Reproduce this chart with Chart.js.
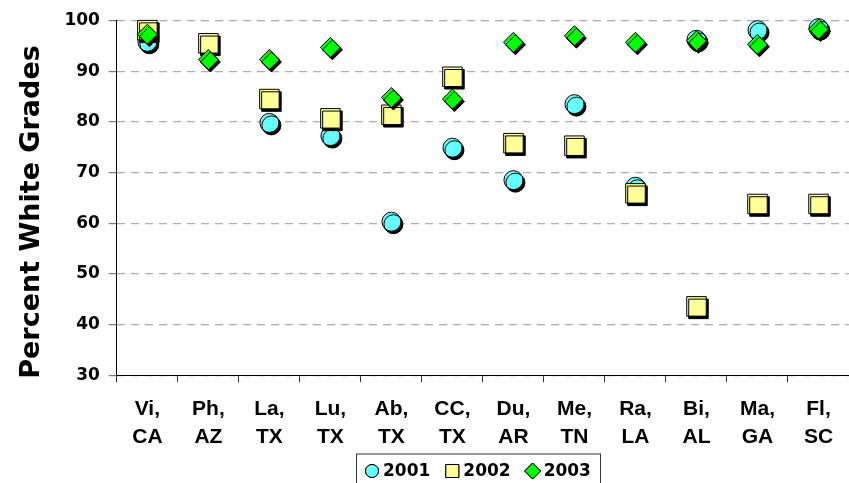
<!DOCTYPE html>
<html>
<head>
<meta charset="utf-8">
<title>Percent White Grades</title>
<script src="https://cdn.jsdelivr.net/npm/chart.js@4/dist/chart.umd.min.js"></script>
<style>
    html, body { margin: 0; padding: 0; background: #fff; }
    #wrap { width: 849px; height: 483px; position: relative; }
</style>
</head>
<body>
<div id="wrap"><canvas id="gradesChart"></canvas></div>
<script>
const sites = [
    ['Vi,', 'CA'], ['Ph,', 'AZ'], ['La,', 'TX'], ['Lu,', 'TX'],
    ['Ab,', 'TX'], ['CC,', 'TX'], ['Du,', 'AR'], ['Me,', 'TN'],
    ['Ra,', 'LA'], ['Bi,', 'AL'], ['Ma,', 'GA'], ['Fl,', 'SC']
];
const grades2001 = [95.8, null, 79.8, 77.2, 60.3, 74.9, 68.5, 83.5, 67.2, 96.2, 98.1, 98.5];
const grades2002 = [98.1, 95.5, 84.5, 80.7, 81.4, 88.9, 75.8, 75.3, 65.9, 43.6, 63.8, 63.8];
const grades2003 = [97.3, 92.3, 92.3, 94.7, 84.8, 84.5, 95.7, 97.0, 95.7, 96.0, 95.3, 98.3];
const yTicks = [30, 40, 50, 60, 70, 80, 90, 100];

const legendFont = "bold 17px 'DejaVu Sans', sans-serif";
const legendSizes = { circle: 6.5, rect: 9.2, rectRot: 8 };

// drop shadow behind the markers only
const markerShadow = {
    id: 'markerShadow',
    beforeDatasetsDraw(chart) {
        const c = chart.ctx;
        c.save();
        c.shadowColor = '#000';
        c.shadowOffsetX = 2;
        c.shadowOffsetY = 2.5;
        c.shadowBlur = 0;
    },
    afterDatasetsDraw(chart) {
        chart.ctx.restore();
    }
};

// boxed legend under the axis, one entry per dataset
const boxedLegend = {
    id: 'boxedLegend',
    afterDraw(chart) {
        const c = chart.ctx;
        const left = 356, top = 453.5, midY = 471;
        c.save();
        c.font = legendFont;
        c.textBaseline = 'middle';
        c.textAlign = 'left';
        let x = left + 9;
        chart.data.datasets.forEach(ds => {
            Chart.helpers.drawPoint(c, {
                pointStyle: ds.pointStyle,
                radius: legendSizes[ds.pointStyle],
                rotation: 0,
                borderWidth: 1
            }, x + 7, midY);
            c.fillStyle = ds.pointBackgroundColor;
            c.strokeStyle = '#000';
            c.lineWidth = 1;
            c.fill();
            c.stroke();
            c.fillStyle = '#000';
            c.fillText(ds.label, x + 18, midY + 1);
            x += 18 + c.measureText(ds.label).width + 15;
        });
        const right = x - 15 + 9;
        c.strokeStyle = '#333';
        c.lineWidth = 1;
        c.strokeRect(left + 0.5, top + 0.5, Math.round(right - left), 40);
        c.restore();
    }
};

Chart.defaults.font.family = "'Liberation Sans', Arial, sans-serif";
Chart.defaults.font.weight = 'bold';
Chart.defaults.color = '#000';

const ctx = document.getElementById('gradesChart').getContext('2d');

new Chart(ctx, {
    type: 'line',
    data: {
        labels: sites,
        datasets: [{
            label: '2001',
            data: grades2001,
            showLine: false,
            pointStyle: 'circle',
            pointRadius: 9.5,
            pointBackgroundColor: '#66FFFF',
            pointBorderColor: '#000',
            pointBorderWidth: 1,
            clip: false,
            order: 3
        }, {
            label: '2002',
            data: grades2002,
            showLine: false,
            pointStyle: 'rect',
            pointRadius: 13.8,
            pointBackgroundColor: '#FFFF99',
            pointBorderColor: '#000',
            pointBorderWidth: 1,
            clip: false,
            order: 2
        }, {
            label: '2003',
            data: grades2003,
            showLine: false,
            pointStyle: 'rectRot',
            pointRadius: 10,
            pointBackgroundColor: '#00FF00',
            pointBorderColor: '#000',
            pointBorderWidth: 1,
            clip: false,
            order: 1
        }]
    },
    options: {
        responsive: true,
        maintainAspectRatio: false,
        animation: false,
        layout: {
            autoPadding: false,
            padding: { top: 20.5, right: -3, bottom: 19.5, left: 0 }
        },
        scales: {
            x: {
                offset: true,
                grid: {
                    offset: true,
                    drawOnChartArea: false,
                    drawTicks: true,
                    tickLength: 7,
                    color: '#333'
                },
                border: { color: '#000', width: 1 },
                ticks: {
                    padding: 12.8,
                    maxRotation: 0,
                    autoSkip: false,
                    font: { size: 21, weight: 'bold', lineHeight: 1.324 }
                }
            },
            y: {
                min: 30,
                max: 100,
                afterBuildTicks(axis) {
                    axis.ticks = yTicks.map(v => ({ value: v }));
                },
                grid: {
                    color: '#ADADAD',
                    lineWidth: 1.2,
                    tickLength: 8,
                    tickColor: '#777'
                },
                border: { color: '#000', width: 1, dash: [8, 6] },
                ticks: {
                    padding: 9,
                    font: { family: "'DejaVu Sans', sans-serif", size: 17, weight: 'bold' }
                },
                title: {
                    display: true,
                    text: 'Percent White Grades   ',
                    padding: { top: 16, bottom: 7 },
                    font: { family: "'DejaVu Sans', sans-serif", size: 27, weight: 'bold', lineHeight: 1.2 }
                }
            }
        },
        plugins: {
            legend: { display: false },
            tooltip: { enabled: false }
        }
    },
    plugins: [markerShadow, boxedLegend]
});
</script>
</body>
</html>
